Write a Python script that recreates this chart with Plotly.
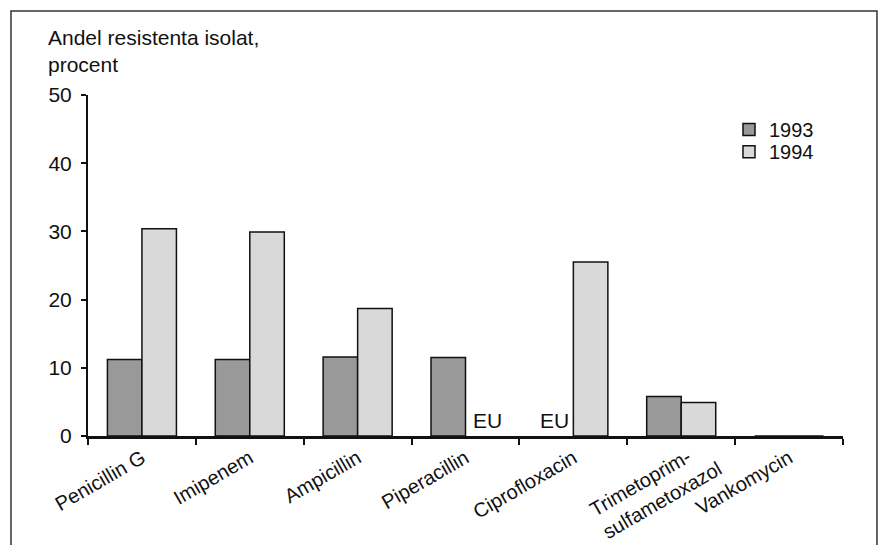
import plotly.graph_objects as go

# Andel resistenta isolat per antibiotikum, 1993 och 1994 (None = ej undersökt, EU)
categories = ["Penicillin G", "Imipenem", "Ampicillin", "Piperacillin",
              "Ciprofloxacin", "Trimetoprim-<br>sulfametoxazol", "Vankomycin"]
years = ["1993", "1994"]
values_1993 = [11.2, 11.2, 11.6, 11.5, None, 5.8, 0]
values_1994 = [30.4, 29.9, 18.7, None, 25.5, 4.9, 0]
y_ticks = [0, 10, 20, 30, 40, 50]

FONT = "Liberation Sans, Arial, sans-serif"
FS = 21
TICK_FS = 20
colors = ["#999999", "#d9d9d9"]
legend_ids = ["legend", "legend2"]

fig = go.Figure()
for name, vals, col, lg in zip(years, [values_1993, values_1994], colors, legend_ids):
    fig.add_trace(go.Bar(
        x=categories, y=vals, name=name, legend=lg,
        marker=dict(color=col, line=dict(color="#111111", width=1.5)),
    ))

annotations = []

# "EU" where a year was not investigated, placed over that year's bar slot
for i, vals in enumerate([values_1993, values_1994]):
    shift = -19 if i == 0 else 22
    for cat, v in zip(categories, vals):
        if v is None:
            annotations.append(dict(
                x=cat, y=0, xref="x", yref="y", text="EU", showarrow=False,
                yanchor="bottom", xshift=shift, yshift=2,
                font=dict(family=FONT, size=FS, color="#111111")))

# single-line names use the axis tick labels; two-line names are set as
# left-aligned rotated text blocks under their category
tick_text = []
for cat in categories:
    if "<br>" in cat:
        tick_text.append("")
        annotations.append(dict(
            x=cat, y=-0.155, xref="x", yref="paper", text=cat, showarrow=False,
            textangle=-30, align="left", xanchor="center", yanchor="middle",
            xshift=-26, font=dict(family=FONT, size=TICK_FS, color="#111111")))
    else:
        tick_text.append(cat)

annotations.append(dict(
    x=-0.056, y=1.207, xref="paper", yref="paper", xanchor="left", yanchor="top",
    text="Andel resistenta isolat,<br>procent", align="left", showarrow=False,
    font=dict(family=FONT, size=FS, color="#111111")))

legend_style = dict(x=0.849, xanchor="left", yanchor="top", bgcolor="rgba(0,0,0,0)",
                    font=dict(size=20), itemwidth=30)

fig.update_layout(
    width=887, height=545,
    margin=dict(l=88, r=44, t=95, b=109),
    paper_bgcolor="white", plot_bgcolor="white",
    font=dict(family=FONT, size=FS, color="#111111"),
    barmode="group", bargap=0.36, bargroupgap=0,
    showlegend=True,
    legend=dict(y=0.956, **legend_style),
    legend2=dict(y=0.891, **legend_style),
    annotations=annotations,
    shapes=[dict(type="rect", xref="paper", yref="paper",
                 x0=-0.102, x1=1.045, y0=-0.4, y1=1.246,
                 line=dict(color="#333333", width=1.5), layer="below")],
)
fig.update_xaxes(
    showline=True, linecolor="#111111", linewidth=2.5, automargin=False,
    tickmode="array", tickvals=categories, ticktext=tick_text,
    ticks="outside", tickson="boundaries", ticklen=6, tickcolor="#111111", tickwidth=1.5,
    tickangle=-30, tickfont=dict(size=TICK_FS), showgrid=False, zeroline=False,
)
fig.update_yaxes(
    range=[0, 50], tickvals=y_ticks, showline=True, linecolor="#111111", linewidth=2,
    ticks="outside", ticklen=5, tickcolor="#111111", tickwidth=1.5, automargin=False,
    showgrid=False, zeroline=False, ticklabelstandoff=5,
)

fig.write_html("out.html")
